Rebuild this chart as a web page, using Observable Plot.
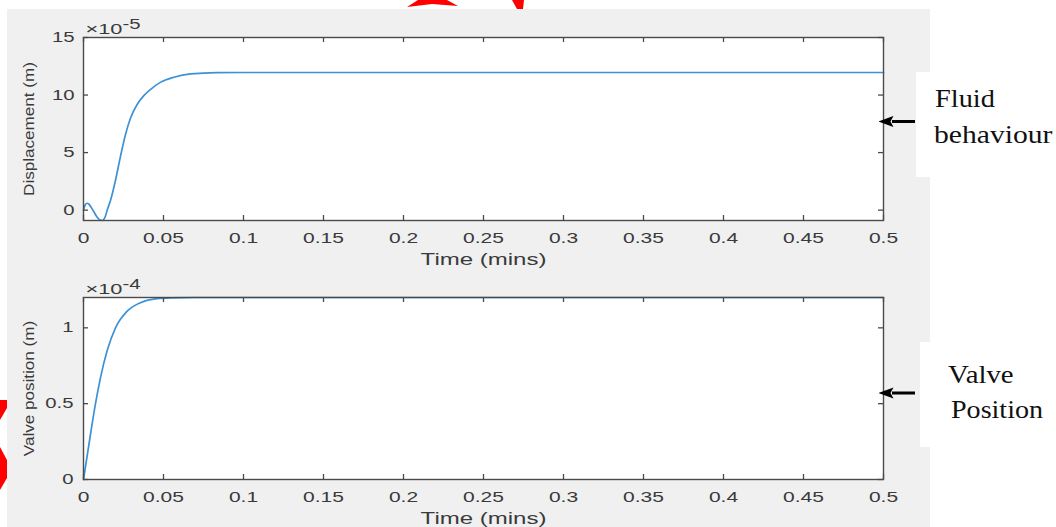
<!DOCTYPE html>
<html>
<head>
<meta charset="utf-8">
<script src="https://cdn.jsdelivr.net/npm/d3@7"></script>
<script src="https://cdn.jsdelivr.net/npm/@observablehq/plot@0.6"></script>
<style>
  html, body { margin: 0; padding: 0; background: #fff; }
  #wrap { position: relative; width: 1056px; height: 527px; overflow: hidden; background: #fff; }
  #wrap > svg, #wrap > div { position: absolute; }
</style>
</head>
<body>
<div id="wrap"></div>
<script>
// ---------- data ----------
// Displacement (fluid behaviour), values in units of 1e-5 m, time in minutes
const dispTime = [0, 0.001, 0.0023, 0.0035, 0.005, 0.0065, 0.008, 0.01, 0.0117, 0.0135, 0.0148, 0.017, 0.02, 0.023, 0.0263, 0.0294, 0.0336, 0.0377, 0.042, 0.048, 0.0565, 0.067, 0.0835, 0.1, 0.5];
const dispVal  = [0, 0.45, 0.6, 0.5, 0.2, -0.15, -0.5, -0.82, -0.9, -0.6, 0, 0.9, 2.6, 4.6, 6.6, 8.0, 9.2, 9.95, 10.5, 11.1, 11.55, 11.84, 11.95, 11.96, 11.96];
// Valve position, values in units of 1e-4 m
const valveTime = [0, 0.0044, 0.0075, 0.0106, 0.0148, 0.02, 0.0273, 0.0356, 0.046, 0.055, 0.07, 0.5];
const valveVal  = [0, 0.30, 0.50, 0.67, 0.85, 1.0, 1.11, 1.166, 1.193, 1.198, 1.2, 1.2];

const xTicks = [0, 0.05, 0.1, 0.15, 0.2, 0.25, 0.3, 0.35, 0.4, 0.45, 0.5];
const xTickLabels = ["0", "0.05", "0.1", "0.15", "0.2", "0.25", "0.3", "0.35", "0.4", "0.45", "0.5"];
const dispTicks = [0, 5, 10, 15];
const dispTickLabels = ["0", "5", "10", "15"];
const valveTicks = [0, 0.5, 1];
const valveTickLabels = ["0", "0.5", "1"];

const xLabel = "Time (mins)";
const dispLabel = "Displacement (m)";
const valveLabel = "Valve position (m)";
const dispExp = ["×10", "-5"];
const valveExp = ["×10", "-4"];
const annotations = [["Fluid", "behaviour"], ["Valve", "Position"]];

// ---------- helpers ----------
const TXT = "#3a3a3a", AX = "#4a4a4a", LINE = "#3d92d6";
const W = 1056, ML = 83, MR = 173;
const frameW = W - ML - MR;

function textsOf(root, selector) {
  const out = [];
  root.querySelectorAll(selector).forEach(el => {
    if (el.tagName.toLowerCase() === "text") out.push(el);
    else el.querySelectorAll("text").forEach(t => out.push(t));
  });
  return out;
}
function textsWith(root, content) {
  return [...root.querySelectorAll("text")].filter(t => t.textContent === content);
}
// widen glyphs (the reference is horizontally stretched) without touching positions
function widenEls(els, sx) {
  els.forEach(t => {
    const L = t.getComputedTextLength();
    t.setAttribute("textLength", (L * sx).toFixed(1));
    t.setAttribute("lengthAdjust", "spacingAndGlyphs");
  });
}

function subplot({time, vals, domain, yTicks, yTickLabels, yLabel, exp, height, mt, mb, ypad}) {
  const data = time.map((t, i) => ({t, v: vals[i]}));
  const frameH = height - mt - mb;
  const svg = Plot.plot({
    width: W, height,
    marginLeft: ML, marginRight: MR, marginTop: mt, marginBottom: mb,
    style: {fontFamily: "'Liberation Sans', Arial, sans-serif", fontSize: "14px", color: TXT, background: "transparent", overflow: "visible"},
    x: {domain: [0, 0.5]},
    y: {domain},
    marks: [
      Plot.frame({fill: "white", stroke: "none"}),
      Plot.line(data, {x: "t", y: "v", stroke: LINE, strokeWidth: 1.7, curve: "monotone-x"}),
      // inward ticks (bottom, top, left, right)
      Plot.ruleX(xTicks, {stroke: AX, strokeWidth: 1.3, insetTop: frameH - 5}),
      Plot.ruleX(xTicks, {stroke: AX, strokeWidth: 1.3, insetBottom: frameH - 5}),
      Plot.ruleY(yTicks, {stroke: AX, strokeWidth: 1.3, insetRight: frameW - 5}),
      Plot.ruleY(yTicks, {stroke: AX, strokeWidth: 1.3, insetLeft: frameW - 5}),
      Plot.frame({stroke: AX, strokeWidth: 1.4}),
      Plot.axisX(xTicks, {tickSize: 0, tickPadding: 13, fontSize: 14, fill: TXT, label: null,
        tickFormat: d => xTickLabels[xTicks.indexOf(d)]}),
      Plot.axisY(yTicks, {tickSize: 0, tickPadding: ypad, fontSize: 14, fill: TXT, label: null,
        tickFormat: d => yTickLabels[yTicks.indexOf(d)]}),
      Plot.text([xLabel], {frameAnchor: "bottom", textAnchor: "middle", lineAnchor: "top", dy: 33, fontSize: 16, fill: TXT}),
      Plot.text([yLabel], {frameAnchor: "left", textAnchor: "middle", lineAnchor: "middle", rotate: -90, dx: -54, fontSize: 14, fill: TXT}),
      Plot.text([exp[0]], {frameAnchor: "top-left", textAnchor: "start", lineAnchor: "bottom", dx: 2, dy: -4, fontSize: 15, fill: TXT})
    ]
  });
  return svg;
}

function finish(svg, yLabel, exp) {
  const expEls = textsWith(svg, exp[0]);
  expEls.forEach(t => {
    const ts = document.createElementNS("http://www.w3.org/2000/svg", "tspan");
    ts.setAttribute("dy", "-5");
    ts.setAttribute("font-size", "14");
    ts.textContent = exp[1];
    t.appendChild(ts);
  });
  widenEls(textsOf(svg, 'g[aria-label="x-axis tick label"]'), 1.5);
  widenEls(textsOf(svg, 'g[aria-label="y-axis tick label"]'), 1.45);
  widenEls(textsWith(svg, xLabel), 1.5);
  widenEls(expEls, 1.45);
  widenEls(textsWith(svg, yLabel), 1.22);
}

const wrap = document.getElementById("wrap");
const NS = "http://www.w3.org/2000/svg";

// background panel
const back = document.createElementNS(NS, "svg");
back.setAttribute("width", W); back.setAttribute("height", 527);
back.style.left = "0px"; back.style.top = "0px";
back.innerHTML = `<rect x="7" y="9" width="923" height="518" fill="#f0f0f0"/>`;
wrap.appendChild(back);

const topPlot = subplot({time: dispTime, vals: dispVal, domain: [-0.9, 15], yTicks: dispTicks, yTickLabels: dispTickLabels,
  yLabel: dispLabel, exp: dispExp, height: 270, mt: 37, mb: 50, ypad: 9});
topPlot.style.left = "0px"; topPlot.style.top = "0px";
wrap.appendChild(topPlot);
finish(topPlot, dispLabel, dispExp);

const botPlot = subplot({time: valveTime, vals: valveVal, domain: [0, 1.2], yTicks: valveTicks, yTickLabels: valveTickLabels,
  yLabel: valveLabel, exp: valveExp, height: 267, mt: 37, mb: 48, ypad: 10});
botPlot.style.left = "0px"; botPlot.style.top = "260px";
wrap.appendChild(botPlot);
finish(botPlot, valveLabel, valveExp);

// annotations overlay
const front = document.createElementNS(NS, "svg");
front.setAttribute("width", W); front.setAttribute("height", 527);
front.style.left = "0px"; front.style.top = "0px";
const serif = "font-family=\"'Liberation Serif', 'Times New Roman', serif\" font-size=\"26\" fill=\"#111\"";
front.innerHTML = `
  <defs><marker id="ah" viewBox="0 0 10 10" preserveAspectRatio="none" refX="1" refY="5" markerWidth="5" markerHeight="3.7" orient="auto-start-reverse">
    <path d="M0,0 L10,5 L0,10 L2,5 z" fill="#000"/></marker></defs>
  <rect x="916" y="72" width="140" height="105" fill="#fff"/>
  <rect x="920" y="342" width="136" height="105" fill="#fff"/>
  <line x1="915" y1="121.5" x2="892" y2="121.5" stroke="#000" stroke-width="3" marker-end="url(#ah)"/>
  <line x1="915" y1="393" x2="892" y2="393" stroke="#000" stroke-width="3" marker-end="url(#ah)"/>
  <text ${serif} transform="translate(935,107) scale(1.09,1)">${annotations[0][0]}</text>
  <text ${serif} transform="translate(934,143) scale(1.14,1)">${annotations[0][1]}</text>
  <text ${serif} transform="translate(948,383) scale(1.11,1)">${annotations[1][0]}</text>
  <text ${serif} transform="translate(951,418) scale(1.08,1)">${annotations[1][1]}</text>
  <polygon points="407,7 418,0 447,0 458,6 432,4" fill="#f00"/>
  <polygon points="512,0 524,0 523,9 517,9" fill="#f00"/>
  <polygon points="0,400 7,400 7,408 0,420" fill="#f00"/>
  <polygon points="0,447 7,460 7,478 0,490" fill="#f00"/>
`;
wrap.appendChild(front);
</script>
</body>
</html>
